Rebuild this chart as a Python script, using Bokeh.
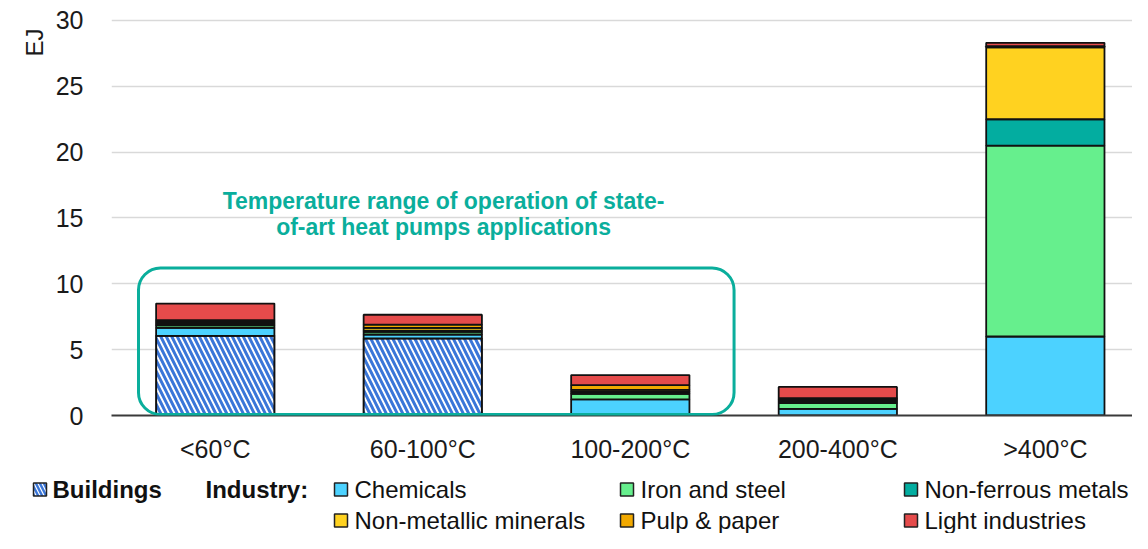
import numpy as np
from bokeh.plotting import figure
from bokeh.models import Range1d, FixedTicker, BoxAnnotation, Title
from bokeh.layouts import column, row
from bokeh.core.properties import value
from bokeh.embed import file_html
from bokeh.resources import INLINE

# ---------------- data ----------------
categories = ["<60°C", "60-100°C", "100-200°C", "200-400°C", ">400°C"]
buildings = [6.05, 5.85, 0.0, 0.0, 0.0]
chemicals = [0.60, 0.30, 1.22, 0.50, 6.00]
iron_steel = [0.20, 0.20, 0.43, 0.45, 14.50]
non_ferrous = [0.10, 0.10, 0.15, 0.15, 2.00]
non_metallic = [0.15, 0.20, 0.15, 0.15, 5.45]
pulp_paper = [0.15, 0.25, 0.35, 0.07, 0.10]
light_ind = [1.25, 0.75, 0.77, 0.85, 0.25]
y_ticks = [0, 5, 10, 15, 20, 25, 30]

industry_names = ["Chemicals", "Iron and steel", "Non-ferrous metals",
                  "Non-metallic minerals", "Pulp & paper", "Light industries"]
industry_series = [chemicals, iron_steel, non_ferrous, non_metallic, pulp_paper, light_ind]
industry_colors = ["#4CD2FF", "#66EF8D", "#03ADA0", "#FFD220", "#F2A900", "#E54B4B"]
TEAL = "#0AAE9C"
HATCH_BLUE = "#3A76D8"
FONT = "Liberation Sans"
TXT = "#1A1A1A"

# ---------------- main chart ----------------
x_pos = np.arange(len(categories)) + 0.5
BAR_W = 0.57

p = figure(width=1132, height=465, output_backend="svg", toolbar_location=None,
           x_range=Range1d(0, 4.92), y_range=Range1d(0, 30.15),
           min_border_left=111, min_border_right=0, min_border_top=18, min_border_bottom=50)
p.outline_line_color = None
p.xgrid.grid_line_color = None
p.ygrid.grid_line_color = "#D9D9D9"
p.ygrid.grid_line_width = 1.6
p.ygrid.ticker = FixedTicker(ticks=y_ticks)

# buildings (hatched)
b = np.array(buildings)
m = b > 0
p.vbar(x=x_pos[m], bottom=0, top=b[m], width=BAR_W, fill_color="white",
       hatch_pattern="left_diagonal_line", hatch_color=HATCH_BLUE, hatch_weight=3.0,
       hatch_scale=11, line_color="#111111", line_width=2)

base = b.copy()
for name, vals, col in zip(industry_names, industry_series, industry_colors):
    v = np.array(vals)
    mm = v > 0
    p.vbar(x=x_pos[mm], bottom=base[mm], top=(base + v)[mm], width=BAR_W,
           fill_color=col, line_color="#111111", line_width=1.8)
    base = base + v

# axes
p.yaxis.ticker = FixedTicker(ticks=y_ticks)
p.yaxis.axis_line_color = None
p.yaxis.major_tick_line_color = None
p.yaxis.minor_tick_line_color = None
p.yaxis.major_label_standoff = 22
p.yaxis.major_label_text_font = FONT
p.yaxis.major_label_text_font_size = "25px"
p.yaxis.major_label_text_color = TXT

p.xaxis.ticker = FixedTicker(ticks=list(x_pos))
p.xaxis.major_label_overrides = {float(x): c for x, c in zip(x_pos, categories)}
p.xaxis.axis_line_color = "#3A3A3A"
p.xaxis.axis_line_width = 2
p.xaxis.major_tick_line_color = None
p.xaxis.minor_tick_line_color = None
p.xaxis.major_label_standoff = 13
p.xaxis.major_label_text_font = FONT
p.xaxis.major_label_text_font_size = "25px"
p.xaxis.major_label_text_color = TXT

# unit label (vertical, at the top of the left side)
p.add_layout(Title(text="EJ", align="right", offset=10, text_font=FONT,
                   text_font_size="24px", text_font_style="normal",
                   text_color=TXT), "left")

# heat pump annotation box + text
p.add_layout(BoxAnnotation(left=0.13, right=3.0, bottom=0.08, top=11.2,
                           fill_alpha=0, line_color=TEAL, line_alpha=1.0, line_width=3,
                           border_radius=22))
p.text(x=[1.60, 1.60], y=[16.3, 14.3],
       text=["Temperature range of operation of state-", "of-art heat pumps applications"],
       text_align="center", text_baseline="middle", text_font=value(FONT),
       text_font_style="bold", text_font_size="23px", text_color=TEAL)

# ---------------- legend strip ----------------
LG_H = 68
lg = figure(width=1132, height=LG_H, output_backend="svg", toolbar_location=None,
            x_range=Range1d(0, 1132), y_range=Range1d(LG_H, 0),
            x_axis_type=None, y_axis_type=None,
            min_border_left=0, min_border_right=0, min_border_top=0, min_border_bottom=0)
lg.outline_line_color = None
lg.xgrid.visible = False
lg.ygrid.visible = False

ROW1, ROW2 = 24, 55
SQ = 13
lg.rect(x=[39.5], y=[ROW1], width=SQ, height=SQ, fill_color="white",
        hatch_pattern="left_diagonal_line", hatch_color=HATCH_BLUE, hatch_weight=2.4,
        hatch_scale=8, line_color="#222222", line_width=1.5)
lg.text(x=[52, 205], y=[ROW1, ROW1], text=["Buildings", "Industry:"],
        text_baseline="middle", text_font=value(FONT), text_font_style="bold",
        text_font_size="24px", text_color="#111111")

sq_x = [340.5, 626.5, 910.5, 340.5, 626.5, 910.5]
tx_x = [354, 640, 924, 354, 640, 924]
rows = [ROW1, ROW1, ROW1, ROW2, ROW2, ROW2]
lg.rect(x=sq_x, y=rows, width=SQ, height=SQ, fill_color=industry_colors,
        line_color="#222222", line_width=1.5)
lg.text(x=tx_x, y=rows, text=industry_names, text_baseline="middle",
        text_font=value(FONT), text_font_size="24px", text_color="#111111")

layout = column(p, row(lg), spacing=0)
open("out.html", "w").write(file_html(layout, INLINE))
